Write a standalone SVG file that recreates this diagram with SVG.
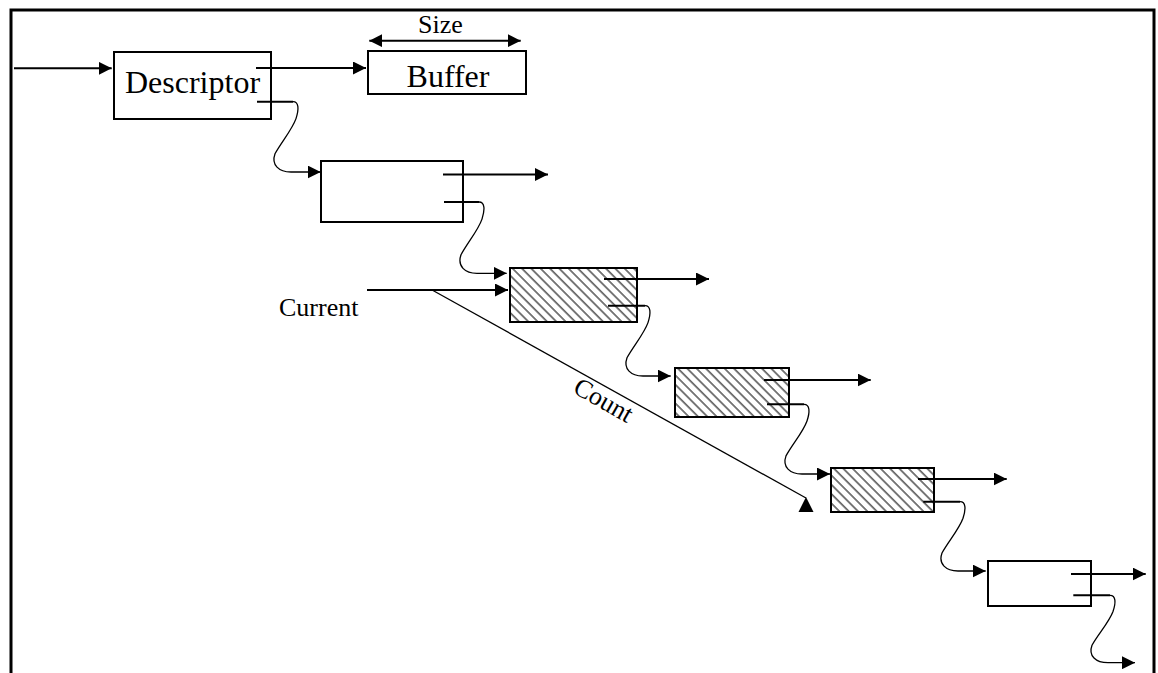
<svg xmlns="http://www.w3.org/2000/svg" width="1158" height="673" viewBox="0 0 1158 673">
<style>
.frame{fill:none;stroke:#000;stroke-width:3}
.box{fill:#fff;stroke:#000;stroke-width:2}
.hatch{fill:url(#hatch);stroke:#000;stroke-width:2}
.ln{fill:none;stroke:#000;stroke-width:2}
.arr{fill:none;stroke:#000;stroke-width:2;marker-end:url(#ah)}
.wave{fill:none;stroke:#000;stroke-width:1.3;marker-end:url(#ah)}
.thin{fill:none;stroke:#000;stroke-width:1.3}
.big{font-family:"Liberation Serif","Times New Roman",serif;font-size:32px;fill:#000}
.small{font-family:"Liberation Serif","Times New Roman",serif;font-size:26px;fill:#000}
</style>
<defs>
<marker id="ah" markerUnits="userSpaceOnUse" markerWidth="14" markerHeight="13" refX="13" refY="6.5" orient="auto-start-reverse">
<path d="M0,0 L13,6.5 L0,13 z" fill="#000"/>
</marker>
<pattern id="hatch" patternUnits="userSpaceOnUse" width="6.6" height="40" patternTransform="rotate(-45)">
<rect width="6.6" height="40" fill="#fff"/>
<line x1="1" y1="0" x2="1" y2="40" stroke="#444" stroke-width="1.4"/>
</pattern>
</defs>
<path class="frame" d="M11,673 V10 H1154 V673"/>
<g id="descriptor"><rect class="box" x="114" y="52" width="157" height="67"/><text class="big" x="192.5" y="92.7" text-anchor="middle">Descriptor</text></g>
<g id="buffer"><rect class="box" x="368" y="51" width="158" height="43"/><text class="big" x="448" y="86.7" text-anchor="middle">Buffer</text></g>
<g id="node2"><rect class="box" x="321" y="161" width="142" height="61"/></g>
<g id="node3"><rect class="hatch" x="510" y="268" width="127" height="54"/></g>
<g id="node4"><rect class="hatch" x="675" y="368" width="114" height="49"/></g>
<g id="node5"><rect class="hatch" x="831" y="468" width="103" height="44"/></g>
<g id="node6"><rect class="box" x="988" y="561" width="103" height="45"/></g>
<g id="labels">
<text class="small" x="440.5" y="33.3" text-anchor="middle">Size</text>
<text class="small" x="279" y="316">Current</text>
<text class="small" transform="translate(599.4,407.7) rotate(29.4)" text-anchor="middle">Count</text>
</g>
<g id="connectors">
<line class="arr" x1="14" y1="68.3" x2="111.7" y2="68.3"/>
<line class="arr" x1="256" y1="68" x2="366" y2="68"/>
<line class="ln" x1="369.3" y1="40.7" x2="520.7" y2="40.7" style="marker-start:url(#ah);marker-end:url(#ah)"/>
<line class="arr" x1="443" y1="174.5" x2="548" y2="174.5"/>
<line class="arr" x1="604" y1="279" x2="709" y2="279"/>
<line class="arr" x1="764" y1="380" x2="870.7" y2="380"/>
<line class="arr" x1="918" y1="479" x2="1006.7" y2="479"/>
<line class="arr" x1="1071" y1="574" x2="1145.7" y2="574"/>
<line class="arr" x1="367" y1="290" x2="508" y2="290"/>
<line class="thin" x1="433" y1="290.5" x2="806" y2="498"/>
<polygon points="806,497 798.5,512 813.5,512" fill="#000"/>
<line class="ln" x1="257" y1="101.7" x2="293" y2="101.7"/>
<path class="wave" d="M293,101.7 C299,101.7 299,109.4 296,118.6 C292,129.8 282,141.1 275,153.7 C271,165 279,172 291,172 L320.7,172"/>
<line class="ln" x1="444" y1="202" x2="479" y2="202"/>
<path class="wave" d="M479,202 C485,202 485,209.8 482,219.1 C478,230.5 468,241.9 461,254.8 C457,266.2 465,273.3 477,273.3 L506.7,273.3"/>
<line class="ln" x1="608" y1="305.7" x2="645" y2="305.7"/>
<path class="wave" d="M645,305.7 C651,305.7 651,313.4 648,322.6 C644,333.8 634,345.1 627,357.7 C623,369 631,376 643,376 L670.7,376"/>
<line class="ln" x1="767" y1="404.3" x2="804" y2="404.3"/>
<path class="wave" d="M804,404.3 C810,404.3 810,412 807,421 C803,432.2 793,443.3 786,455.9 C782,467 790,474 802,474 L830,474"/>
<line class="ln" x1="923.3" y1="501.7" x2="960" y2="501.7"/>
<path class="wave" d="M960,501.7 C966,501.7 966,509.3 963,518.3 C959,529.4 949,540.5 942,553 C938,564.1 946,571 958,571 L985.7,571"/>
<line class="ln" x1="1073.3" y1="595.3" x2="1110" y2="595.3"/>
<path class="wave" d="M1110,595.3 C1116,595.3 1116,602.7 1113,611.5 C1109,622.3 1099,633 1092,645.2 C1088,656 1096,662.7 1108,662.7 L1135,662.7"/>
</g>
</svg>
